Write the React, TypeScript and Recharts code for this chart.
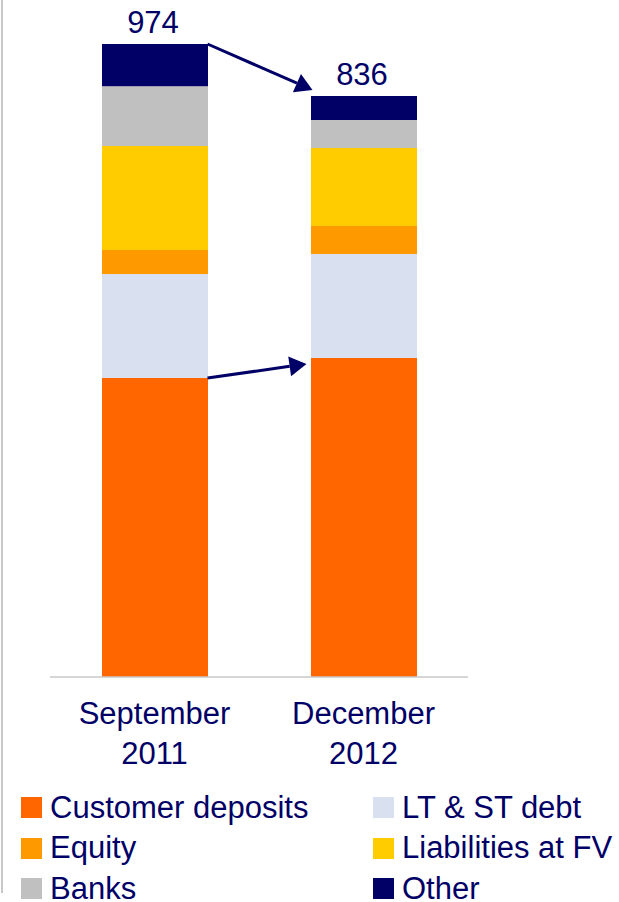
import { BarChart, Bar, XAxis, YAxis, LabelList, ReferenceLine } from "recharts";

const periods = ["September 2011", "December 2012"];
const totalLabels = [974, 836];
const customerDeposits = [460, 491];
const ltStDebt = [160, 160];
const equity = [37, 43];
const liabilitiesFV = [160, 120];
const banks = [92, 43];
const other = [65, 37];

const NAVY = "#000066";
const FONT = "'Liberation Sans', Arial, sans-serif";
const BAR = 106;

const series = [
  { key: "customer", name: "Customer deposits", color: "#FF6600", values: customerDeposits },
  { key: "debt", name: "LT & ST debt", color: "#D9E0EF", values: ltStDebt },
  { key: "equity", name: "Equity", color: "#FF9900", values: equity },
  { key: "fv", name: "Liabilities at FV", color: "#FFCC00", values: liabilitiesFV },
  { key: "banks", name: "Banks", color: "#C0C0C0", values: banks },
  { key: "other", name: "Other", color: NAVY, values: other },
];

const data = periods.map((period, i) => {
  const row: Record<string, string | number> = { period, label: totalLabels[i] };
  series.forEach((s) => (row[s.key] = s.values[i]));
  return row;
});

const stackTotal = (i: number) => series.reduce((acc, s) => acc + s.values[i], 0);

// legend order: left column then right column, row by row
const legendOrder = ["customer", "debt", "equity", "fv", "banks", "other"];

if (typeof document !== "undefined") document.body.style.margin = "0";

function PeriodTick({ x, y, payload }: any) {
  const [month, year] = String(payload.value).split(" ");
  return (
    <text x={x} y={y} textAnchor="middle" fill={NAVY} fontSize={31} fontFamily={FONT}>
      <tspan x={x} dy={47}>{month}</tspan>
      <tspan x={x} dy={40}>{year}</tspan>
    </text>
  );
}

function TotalLabel({ x, y, width, value }: any) {
  return (
    <text x={x + width / 2 - 2} y={y - 11} textAnchor="middle" fill={NAVY} fontSize={31} fontFamily={FONT}>
      {value}
    </text>
  );
}

// arrow between the two bars; x1/x2 arrive as category centres
function arrowShape(dx: number, dy: number) {
  return (props: any) => {
    const sx = props.x1 + BAR / 2;
    const sy = props.y1;
    const tx = props.x2 - BAR / 2 + dx;
    const ty = props.y2 + dy;
    const len = Math.hypot(tx - sx, ty - sy);
    const ux = (tx - sx) / len;
    const uy = (ty - sy) / len;
    const bx = tx - ux * 17;
    const by = ty - uy * 17;
    const px = -uy * 10;
    const py = ux * 10;
    return (
      <g>
        <line x1={sx} y1={sy} x2={bx} y2={by} stroke={NAVY} strokeWidth={3} />
        <polygon points={`${tx},${ty} ${bx + px},${by + py} ${bx - px},${by - py}`} fill={NAVY} />
      </g>
    );
  };
}

export default function App() {
  return (
    <div
      style={{
        position: "relative",
        width: 619,
        height: 902,
        overflow: "hidden",
        background: "#fff",
        fontFamily: FONT,
      }}
    >
      <div style={{ position: "absolute", left: 1, top: 0, width: 2, height: 893, background: "#C8C8C8" }} />
      <BarChart
        width={619}
        height={780}
        data={data}
        barSize={BAR}
        margin={{ top: 44, right: 151, left: 50, bottom: 73 }}
      >
        <XAxis
          dataKey="period"
          stroke="#C8C8C8"
          strokeWidth={1.5}
          tickLine={false}
          tickSize={0}
          tickMargin={0}
          interval={0}
          tick={<PeriodTick />}
        />
        <YAxis hide domain={[0, "dataMax"]} />
        {series.map((s) => (
          <Bar key={s.key} dataKey={s.key} name={s.name} stackId="a" fill={s.color} isAnimationActive={false}>
            {s.key === "other" && <LabelList dataKey="label" content={<TotalLabel />} />}
          </Bar>
        ))}
        <ReferenceLine
          segment={[
            { x: periods[0], y: stackTotal(0) },
            { x: periods[1], y: stackTotal(1) },
          ]}
          shape={arrowShape(2, -6)}
        />
        <ReferenceLine
          segment={[
            { x: periods[0], y: customerDeposits[0] },
            { x: periods[1], y: customerDeposits[1] },
          ]}
          shape={arrowShape(-4, 6)}
        />
      </BarChart>
      {legendOrder.map((key, i) => {
        const s = series.find((d) => d.key === key)!;
        const col = i % 2;
        const row = Math.floor(i / 2);
        const cy = 807.5 + row * 40.5;
        return (
          <div
            key={key}
            style={{
              position: "absolute",
              left: col === 0 ? 21 : 373,
              top: cy - 13,
              height: 26,
              display: "flex",
              alignItems: "center",
              whiteSpace: "nowrap",
            }}
          >
            <div style={{ width: 21, height: 21, background: s.color, marginRight: 8 }} />
            <span style={{ fontSize: 31, color: NAVY, lineHeight: "26px" }}>{s.name}</span>
          </div>
        );
      })}
    </div>
  );
}
